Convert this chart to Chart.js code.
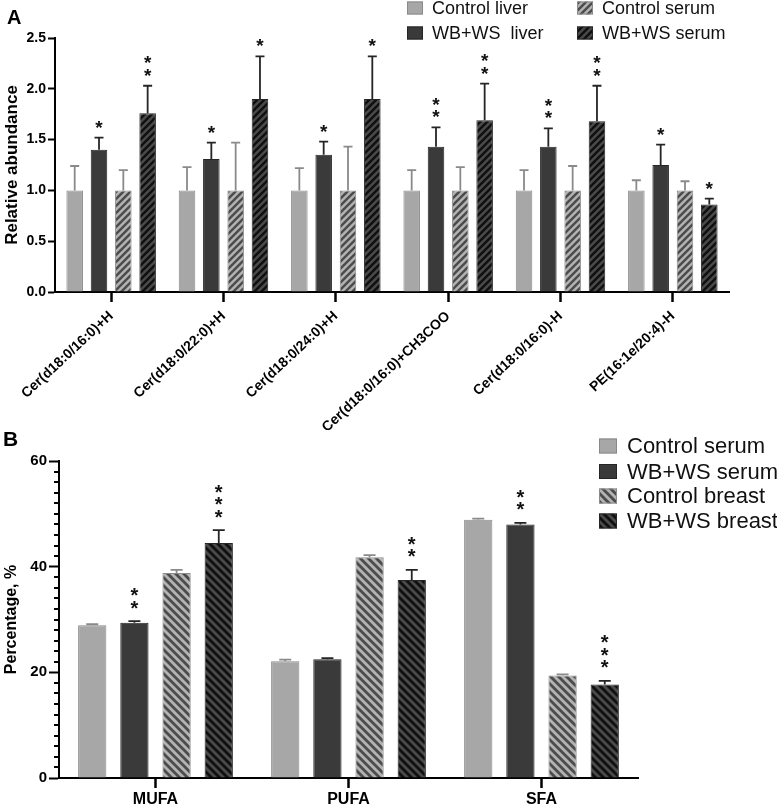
<!DOCTYPE html>
<html>
<head>
<meta charset="utf-8">
<script src="https://cdn.jsdelivr.net/npm/chart.js@4.4.1/dist/chart.umd.min.js"></script>
<style>
  body { margin: 0; background: #fff; }
  canvas { position: absolute; left: 0; }
  #chartA { top: 0; }
  #chartB { top: 430px; }
</style>
</head>
<body>
<canvas id="chartA" width="777" height="430"></canvas>
<canvas id="chartB" width="777" height="376"></canvas>
<script>
// ---- panel A data ----
const lipids = ["Cer(d18:0/16:0)+H", "Cer(d18:0/22:0)+H", "Cer(d18:0/24:0)+H",
  "Cer(d18:0/16:0)+CH3COO", "Cer(d18:0/16:0)-H", "PE(16:1e/20:4)-H"];
const ctrlLiver = [1, 1, 1, 1, 1, 1];
const ctrlLiverErr = [0.24, 0.23, 0.22, 0.20, 0.20, 0.10];
const wbLiver = [1.40, 1.31, 1.35, 1.43, 1.43, 1.25];
const wbLiverErr = [0.12, 0.16, 0.13, 0.19, 0.18, 0.20];
const ctrlSerum = [1, 1, 1, 1, 1, 1];
const ctrlSerumErr = [0.20, 0.47, 0.43, 0.23, 0.24, 0.09];
const wbSerum = [1.76, 1.90, 1.90, 1.69, 1.68, 0.86];
const wbSerumErr = [0.27, 0.42, 0.42, 0.36, 0.35, 0.06];
const wbLiverStars = [1, 1, 1, 2, 2, 1];
const wbSerumStars = [2, 1, 1, 2, 2, 1];
const ticksA = [0, 0.5, 1.0, 1.5, 2.0, 2.5];

// ---- panel B data ----
const fattyAcids = ["MUFA", "PUFA", "SFA"];
const ctrlSerumB = [28.9, 22.1, 48.9];
const ctrlSerumBErr = [0.2, 0.3, 0.2];
const wbSerumB = [29.4, 22.5, 48.0];
const wbSerumBErr = [0.3, 0.2, 0.3];
const ctrlBreast = [38.8, 41.8, 19.4];
const ctrlBreastErr = [0.6, 0.4, 0.2];
const wbBreast = [44.5, 37.5, 17.7];
const wbBreastErr = [2.4, 1.9, 0.7];
const wbSerumBStars = [2, 0, 2];
const wbBreastStars = [3, 2, 3];
const ticksB = [0, 20, 40, 60];

const FONT = "'Liberation Sans', Arial, Helvetica, sans-serif";
const LIGHT = "#a7a7a7", LIGHT_EDGE = "#8a8a8a";
const DARK = "#3a3a3a", DARK_EDGE = "#252525";

// diagonal stripes, dir 1 = "///", dir -1 = "\\\"
function hatch(bg, fg, dir, p) {
  const c = document.createElement("canvas");
  c.width = p; c.height = p;
  const x = c.getContext("2d");
  x.fillStyle = bg;
  x.fillRect(0, 0, p, p);
  x.strokeStyle = fg;
  x.lineWidth = p / Math.SQRT2 / 2;
  x.beginPath();
  for (let k = -1; k <= 1; k++) {
    if (dir > 0) {
      x.moveTo(-p + k * p, p * 2);
      x.lineTo(p * 2 + k * p, -p);
    } else {
      x.moveTo(-p + k * p, -p);
      x.lineTo(p * 2 + k * p, p * 2);
    }
  }
  x.stroke();
  return x.createPattern(c, "repeat");
}

// error bars + stars on top of bars
const errorBars = {
  id: "errorBars",
  afterDatasetsDraw(chart, args, opts) {
    const ctx = chart.ctx;
    const y = chart.scales.y;
    chart.data.datasets.forEach((ds, i) => {
      const meta = chart.getDatasetMeta(i);
      meta.data.forEach((bar, j) => {
        const top = y.getPixelForValue(ds.data[j] + ds.err[j]);
        ctx.save();
        ctx.strokeStyle = ds.errColor;
        ctx.lineWidth = opts.width;
        ctx.beginPath();
        ctx.moveTo(bar.x, bar.y);
        ctx.lineTo(bar.x, top);
        ctx.moveTo(bar.x - opts.cap / 2, top);
        ctx.lineTo(bar.x + opts.cap / 2, top);
        ctx.stroke();
        const n = ds.stars ? ds.stars[j] : 0;
        ctx.fillStyle = "#111";
        ctx.font = "bold " + opts.starSize + "px " + FONT;
        ctx.textAlign = "center";
        ctx.textBaseline = "alphabetic";
        for (let k = 0; k < n; k++) {
          const cy = top - opts.starGap - k * opts.starStep;
          ctx.fillText("*", bar.x, cy + opts.starSize * 0.58);
        }
        ctx.restore();
      });
    });
  }
};

// hand placed legend + panel letter
const sideLegend = {
  id: "sideLegend",
  afterDraw(chart, args, opts) {
    const ctx = chart.ctx;
    ctx.save();
    chart.data.datasets.forEach((ds, i) => {
      const [lx, ly] = opts.pos[i];
      const [bw, bh] = opts.box;
      ctx.fillStyle = ds.backgroundColor;
      ctx.fillRect(lx, ly - bh / 2, bw, bh);
      ctx.strokeStyle = ds.borderColor;
      ctx.lineWidth = 1;
      ctx.strokeRect(lx + 0.5, ly - bh / 2 + 0.5, bw - 1, bh - 1);
      ctx.fillStyle = "#111";
      ctx.font = opts.size + "px " + FONT;
      ctx.textAlign = "left";
      ctx.textBaseline = "middle";
      ctx.fillText(ds.label, lx + opts.gap, ly + 1);
    });
    ctx.font = "bold " + opts.letterSize + "px " + FONT;
    ctx.fillStyle = "#000";
    ctx.textBaseline = "middle";
    ctx.fillText(opts.letter, opts.letterPos[0], opts.letterPos[1]);
    ctx.restore();
  }
};

const minorTicks = {
  id: "minorTicks",
  afterDraw(chart, args, opts) {
    if (!opts.step) return;
    const y = chart.scales.y;
    const ctx = chart.ctx;
    ctx.save();
    ctx.strokeStyle = "#000";
    ctx.lineWidth = 2;
    for (let v = y.min; v <= y.max; v += opts.step) {
      if (v % opts.major === 0) continue;
      const py = Math.round(y.getPixelForValue(v));
      ctx.beginPath();
      ctx.moveTo(y.right, py);
      ctx.lineTo(y.right - opts.len, py);
      ctx.stroke();
    }
    ctx.restore();
  }
};

function axisY(title, titleSize, max, tickVals, fmt, width, tickLen, size) {
  return {
    min: 0, max: max,
    afterFit: (s) => { s.width = width; },
    afterBuildTicks: (s) => { s.ticks = tickVals.map(v => ({ value: v })); },
    ticks: {
      color: "#000", padding: 2,
      font: { family: FONT, size: size, weight: "bold" },
      callback: fmt
    },
    grid: { drawOnChartArea: false, drawTicks: true, tickLength: tickLen, tickWidth: 2, tickColor: "#000" },
    border: { display: true, color: "#000", width: 2 },
    title: { display: true, text: title, color: "#000", padding: { top: 2, bottom: 0 },
      font: { family: FONT, size: titleSize, weight: "bold" } }
  };
}

function axisX(height, rot, size, tickLen, pad) {
  return {
    afterFit: (s) => { s.height = height; },
    ticks: {
      color: "#000", autoSkip: false, minRotation: rot, maxRotation: rot, padding: pad,
      font: { family: FONT, size: size, weight: "bold" }
    },
    grid: { offset: false, drawOnChartArea: false, drawTicks: true, tickLength: tickLen, tickWidth: 2.5, tickColor: "#000" },
    border: { display: true, color: "#000", width: 2 }
  };
}

const hatchA1 = hatch("#b3b3b3", "#4c4c4c", 1, 7);
const hatchA2 = hatch("#4a4a4a", "#101010", 1, 7);
const hatchB1 = hatch("#b3b3b3", "#4c4c4c", -1, 8);
const hatchB2 = hatch("#4a4a4a", "#101010", -1, 8);

new Chart(document.getElementById("chartA"), {
  type: "bar",
  data: {
    labels: lipids,
    datasets: [
      { label: "Control liver", data: ctrlLiver, err: ctrlLiverErr, backgroundColor: LIGHT, borderColor: LIGHT_EDGE, errColor: LIGHT_EDGE },
      { label: "WB+WS  liver", data: wbLiver, err: wbLiverErr, stars: wbLiverStars, backgroundColor: DARK, borderColor: DARK_EDGE, errColor: DARK_EDGE },
      { label: "Control serum", data: ctrlSerum, err: ctrlSerumErr, backgroundColor: hatchA1, borderColor: LIGHT_EDGE, errColor: LIGHT_EDGE },
      { label: "WB+WS serum", data: wbSerum, err: wbSerumErr, stars: wbSerumStars, backgroundColor: hatchA2, borderColor: DARK_EDGE, errColor: DARK_EDGE }
    ]
  },
  options: {
    responsive: false,
    animation: false,
    layout: { padding: { top: 38, right: 48, left: 0, bottom: 0 } },
    datasets: { bar: { categoryPercentage: 0.866, barPercentage: 0.68, borderWidth: 1 } },
    scales: {
      x: axisX(138, 43, 14, 10, 6),
      y: axisY("Relative abundance", 17, 2.5, ticksA, v => v.toFixed(1), 55, 7, 14)
    },
    plugins: {
      legend: { display: false },
      tooltip: { enabled: false },
      errorBars: { width: 1.8, cap: 9, starSize: 19, starGap: 15, starStep: 12.5 },
      sideLegend: { pos: [[407, 8], [407, 33], [577, 8], [577, 33]], box: [16, 13], gap: 25, size: 18,
        letter: "A", letterSize: 20, letterPos: [7, 18] }
    }
  },
  plugins: [errorBars, sideLegend, minorTicks]
});

new Chart(document.getElementById("chartB"), {
  type: "bar",
  data: {
    labels: fattyAcids,
    datasets: [
      { label: "Control serum", data: ctrlSerumB, err: ctrlSerumBErr, backgroundColor: LIGHT, borderColor: LIGHT_EDGE, errColor: LIGHT_EDGE },
      { label: "WB+WS serum", data: wbSerumB, err: wbSerumBErr, stars: wbSerumBStars, backgroundColor: DARK, borderColor: DARK_EDGE, errColor: DARK_EDGE },
      { label: "Control breast", data: ctrlBreast, err: ctrlBreastErr, backgroundColor: hatchB1, borderColor: LIGHT_EDGE, errColor: LIGHT_EDGE },
      { label: "WB+WS breast", data: wbBreast, err: wbBreastErr, stars: wbBreastStars, backgroundColor: hatchB2, borderColor: DARK_EDGE, errColor: DARK_EDGE }
    ]
  },
  options: {
    responsive: false,
    animation: false,
    layout: { padding: { top: 31, right: 139, left: 0, bottom: 0 } },
    datasets: { bar: { categoryPercentage: 0.874, barPercentage: 0.67, borderWidth: 1 } },
    scales: {
      x: axisX(28, 0, 16, 10, 2),
      y: axisY("Percentage, %", 16, 60, ticksB, v => v, 59, 10, 15)
    },
    plugins: {
      legend: { display: false },
      tooltip: { enabled: false },
      errorBars: { width: 1.8, cap: 12, starSize: 20, starGap: 18, starStep: 12.5 },
      sideLegend: { pos: [[599, 16], [599, 41.5], [599, 66], [599, 91]], box: [18, 15], gap: 28, size: 22,
        letter: "B", letterSize: 21, letterPos: [3, 10] },
      minorTicks: { step: 2, major: 20, len: 5 }
    }
  },
  plugins: [errorBars, sideLegend, minorTicks]
});
</script>
</body>
</html>
